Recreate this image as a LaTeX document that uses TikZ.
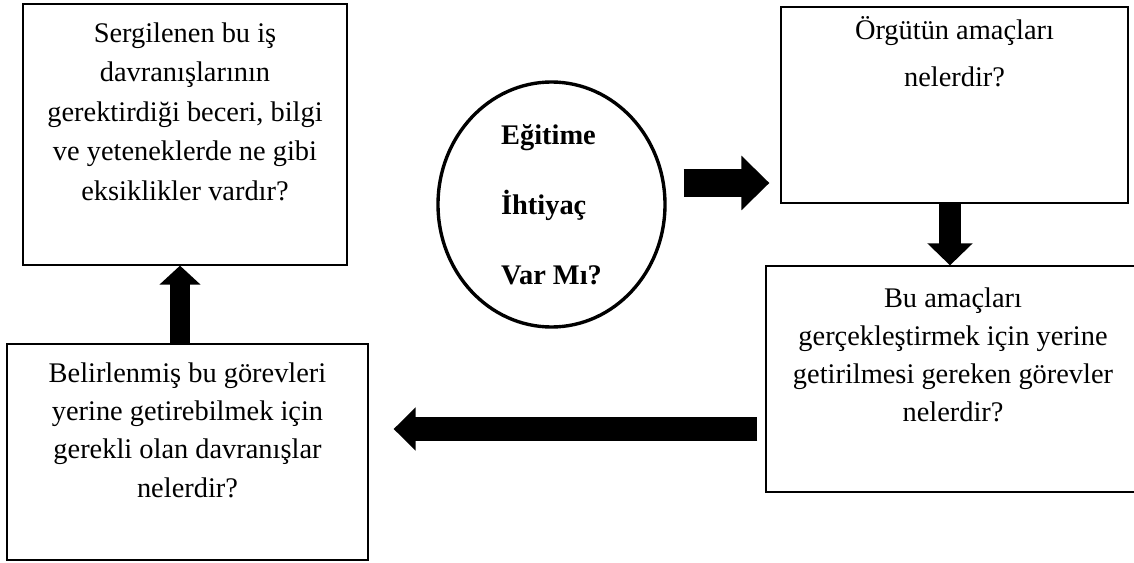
\documentclass[tikz,border=0pt]{standalone}
\usepackage{fontspec}
\setmainfont{Liberation Serif}
\usetikzlibrary{positioning,arrows.meta,shapes.geometric}

\tikzset{
  kutu/.style={draw, line width=0.9pt, inner sep=0pt},
  oval/.style={draw, ellipse, line width=2.4pt, inner sep=0pt, align=left,
    font=\fontsize{20.2pt}{49.8pt}\selectfont\bfseries},
  yazi/.style={align=center, inner sep=0pt},
  kalinok/.style n args={3}{line width=#1, -{Triangle[width=#2, length=#3]}}
}

\begin{document}
\begin{tikzpicture}
\clip (0,0) rectangle (28.35,14.05);
% kutular
\node[kutu, minimum width=8.1cm, minimum height=6.525cm] (beceri) at (4.625,10.6875) {};
\node[kutu, minimum width=9.025cm, minimum height=5.4cm] (davranis) at (4.6875,2.75) {};
\node[kutu, minimum width=8.675cm, minimum height=4.9cm] (amac) at (23.8625,11.425) {};
\node[kutu, minimum width=9.35cm, minimum height=5.65cm] (gorev) at (23.825,4.575) {};
\node[oval, minimum width=5.675cm, minimum height=6.125cm] (ihtiyac) at (13.7875,8.9375) {Eğitime\\İhtiyaç\\Var Mı?};
% yazilar
\node[yazi, font=\fontsize{20.2pt}{28.1pt}\selectfont, below=0.475cm of beceri.north] (beceriyazi)
  {Sergilenen bu iş\\davranışlarının\\gerektirdiği beceri, bilgi\\ve yeteneklerde ne gibi\\eksiklikler vardır?};
\node[yazi, font=\fontsize{20.2pt}{27.2pt}\selectfont, below=0.475cm of davranis.north] (davranisyazi)
  {Belirlenmiş bu görevleri\\yerine getirebilmek için\\gerekli olan davranışlar\\nelerdir?};
\node[yazi, font=\fontsize{20.2pt}{33.4pt}\selectfont, below=0.25cm of amac.north] (amacyazi)
  {Örgütün amaçları\\nelerdir?};
\node[yazi, font=\fontsize{20.2pt}{27pt}\selectfont, below=0.55cm of gorev.north] (gorevyazi)
  {Bu amaçları\\gerçekleştirmek için yerine\\getirilmesi gereken görevler\\nelerdir?};
% oklar
\coordinate (sag) at (0,9.475);
\coordinate (asagi) at (23.75,0);
\coordinate (sol) at (0,3.325);
\coordinate (yukari) at (4.5,0);
\draw[kalinok={0.7cm}{1.325cm}{0.7cm}, shorten <=0.425cm, shorten >=0.275cm]
  (ihtiyac.east |- sag) -- (amac.west |- sag);
\draw[kalinok={0.55cm}{1.1cm}{0.55cm}] (amac.south -| asagi) -- (gorev.north -| asagi);
\draw[kalinok={0.6cm}{1.05cm}{0.55cm}, line join=round, shorten <=0.2cm, shorten >=0.625cm]
  (gorev.west |- sol) -- (davranis.east |- sol);
\draw[kalinok={0.5cm}{1cm}{0.475cm}] (davranis.north -| yukari) -- (beceri.south -| yukari);
\end{tikzpicture}
\end{document}
